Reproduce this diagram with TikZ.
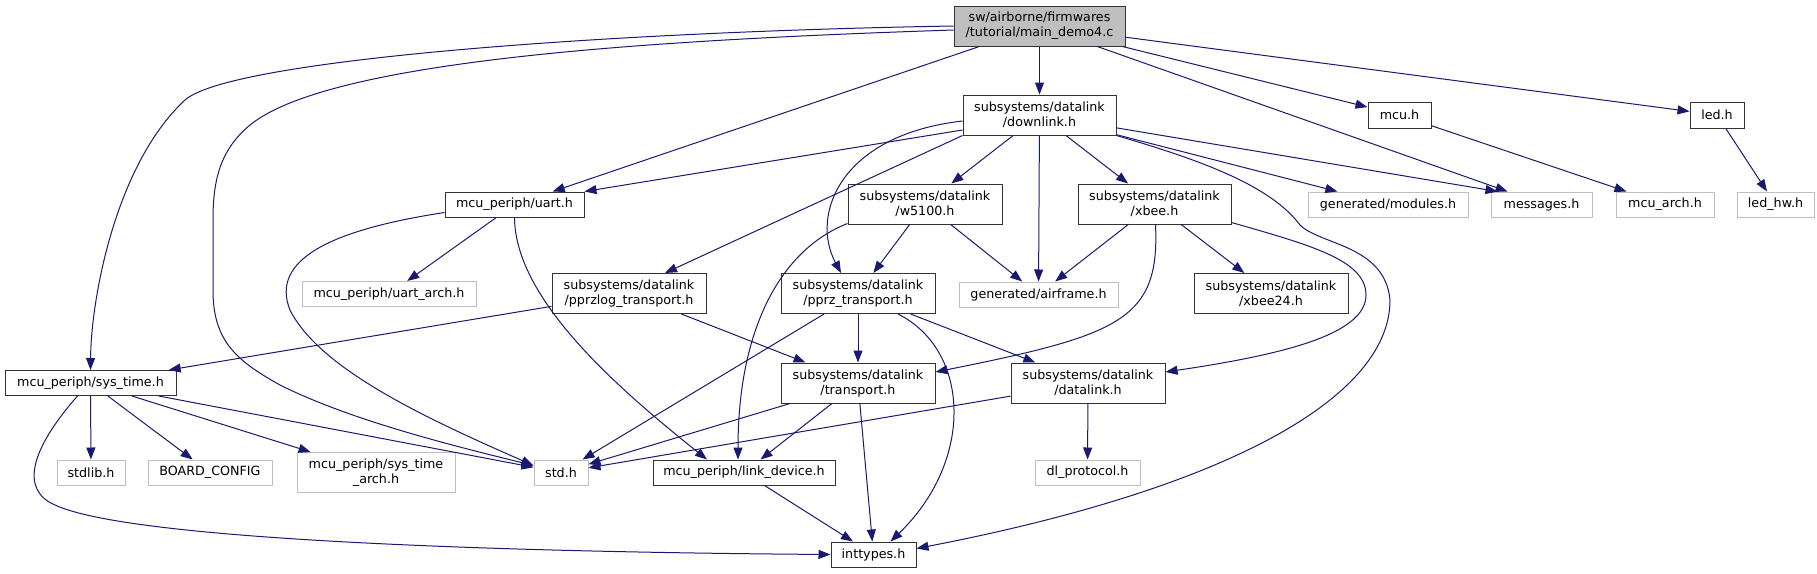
\documentclass[tikz,border=0pt]{standalone}
\usepackage{fontspec}
\setmainfont{DejaVu Sans}
\usepackage{xcolor}
\usetikzlibrary{arrows.meta}
\definecolor{depcol}{RGB}{25,25,112}
\definecolor{extcol}{RGB}{191,191,191}

\begin{document}
\begin{tikzpicture}[x=1pt,y=-1pt,
  font=\fontsize{12.7}{15}\selectfont,
  box/.style={draw,line width=1pt,inner sep=0pt,align=center,minimum height=25pt},
  file/.style={box,draw=black!80},
  ext/.style={box,draw=extcol},
  root/.style={file,fill=extcol},
  two/.style={minimum height=40pt},
  dep/.style={->,draw=depcol,line width=1pt},
  >={Triangle[length=12pt,width=9pt]}]

\useasboundingbox (0,0) rectangle (1817,573);

% root and first level
\node[root,two,minimum width=171pt] (main) at (1039.5,26) {sw/airborne/firmwares\\/tutorial/main\_demo4.c};
\node[file,two,minimum width=153pt] (downlink) at (1039.5,115) {subsystems/datalink\\/downlink.h};
\node[file,minimum width=63pt,minimum height=26pt] (mcu) at (1399.5,115) {mcu.h};
\node[file,minimum width=54pt,minimum height=26pt] (led) at (1717,115) {led.h};

% second level
\node[file,minimum width=139pt] (uart) at (514.5,204.5) {mcu\_periph/uart.h};
\node[file,two,minimum width=154pt] (w5100) at (925,204) {subsystems/datalink\\/w5100.h};
\node[file,two,minimum width=153pt] (xbee) at (1154.5,204) {subsystems/datalink\\/xbee.h};
\node[ext,minimum width=160pt] (modules) at (1388,204.5) {generated/modules.h};
\node[ext,minimum width=101pt] (messages) at (1541.5,204.5) {messages.h};
\node[ext,minimum width=98pt] (mcuarch) at (1665,204.5) {mcu\_arch.h};
\node[ext,minimum width=77pt] (ledhw) at (1775.5,204.5) {led\_hw.h};

% third level
\node[ext,minimum width=174pt] (uartarch) at (389,294) {mcu\_periph/uart\_arch.h};
\node[file,two,minimum width=154pt] (pprzlog) at (629,293.5) {subsystems/datalink\\/pprzlog\_transport.h};
\node[file,two,minimum width=154pt] (pprz) at (858,293.5) {subsystems/datalink\\/pprz\_transport.h};
\node[ext,minimum width=159pt] (airframe) at (1038.5,294.5) {generated/airframe.h};
\node[file,two,minimum width=154pt] (xbee24) at (1271,293.5) {subsystems/datalink\\/xbee24.h};

% fourth level
\node[file,minimum width=171pt] (systime) at (90.5,383) {mcu\_periph/sys\_time.h};
\node[file,two,minimum width=154pt] (transport) at (858,383) {subsystems/datalink\\/transport.h};
\node[file,two,minimum width=154pt] (datalink) at (1088,383) {subsystems/datalink\\/datalink.h};

% leaves
\node[ext,minimum width=68pt] (stdlib) at (91,472.5) {stdlib.h};
\node[ext,minimum width=124pt] (board) at (210,472.5) {BOARD\_CONFIG};
\node[ext,two,minimum width=158pt] (systimearch) at (376,472.5) {mcu\_periph/sys\_time\\\_arch.h};
\node[ext,minimum width=54pt] (std) at (561,472.5) {std.h};
\node[file,minimum width=182pt] (link) at (744,472.5) {mcu\_periph/link\_device.h};
\node[ext,minimum width=105pt] (dl) at (1087.5,472.5) {dl\_protocol.h};
\node[file,minimum width=85pt] (inttypes) at (873.5,554.5) {inttypes.h};

% from main
\draw[dep] (main) -- (downlink); \draw[dep] (main) -- (uart);
\draw[dep] (main) -- (mcu); \draw[dep] (main) -- (led);
\draw[dep] (main) -- ([xshift=-34pt]messages.north);
\draw[dep] (main.west) .. controls (600,32) and (230,60) .. (185,100)
  .. controls (115,165) and (91,300) .. (systime.north);
\draw[dep] ([yshift=-4pt]main.west) .. controls (650,40) and (330,60) .. (250,125)
  .. controls (220,150) and (213,180) .. (213,220) -- (213,290)
  .. controls (213,340) and (235,360) .. (280,385)
  .. controls (350,420) and (450,445) .. ([yshift=7pt]std.west);

% from downlink
\draw[dep] ([yshift=-15pt]downlink.west) -- (uart.north east);
\draw[dep] (downlink.south west) -- ([xshift=36pt]pprzlog.north);
\draw[dep] ([yshift=-6pt]downlink.west) .. controls (840,135) and (810,215) .. ([xshift=-17pt]pprz.north);
\draw[dep] (downlink) -- (w5100); \draw[dep] (downlink) -- (airframe);
\draw[dep] (downlink) -- (xbee); \draw[dep] (downlink) -- (modules);
\draw[dep] (downlink) -- ([xshift=-44pt]messages.north);
\draw[dep] (downlink.south east) .. controls (1200,160) and (1270,185) .. (1300,225)
  .. controls (1320,245) and (1385,245) .. (1390,300)
  .. controls (1390,400) and (1220,490) .. ([yshift=6pt]inttypes.east);

% second level
\draw[dep] (uart) -- (uartarch);
\draw[dep] ([yshift=-8pt]uart.west) .. controls (330,230) and (270,260) .. (290,310)
  .. controls (320,370) and (430,420) .. ([yshift=7pt]std.west);
\draw[dep] (uart.south) .. controls (515,300) and (620,390) .. ([xshift=-37pt]link.north);
\draw[dep] (w5100) -- (pprz); \draw[dep] (w5100) -- (airframe);
\draw[dep] ([yshift=1pt]w5100.south west) .. controls (780,250) and (738,330) .. ([xshift=-6pt]link.north);
\draw[dep] (xbee) -- (airframe); \draw[dep] (xbee) -- (xbee24);
\draw[dep] ([xshift=1pt]xbee.south) .. controls (1160,320) and (1120,335) .. ([yshift=11pt]transport.east);
\draw[dep] ([yshift=2pt]xbee.south east) .. controls (1310,245) and (1366,260) .. (1366,295)
  .. controls (1366,335) and (1280,355) .. ([yshift=11pt]datalink.east);
\draw[dep] (mcu) -- (mcuarch); \draw[dep] (led) -- (ledhw);

% third level
\draw[dep] (pprzlog) -- (systime); \draw[dep] (pprzlog) -- (transport);
\draw[dep] (pprz) -- (transport); \draw[dep] (pprz) -- (std); \draw[dep] (pprz) -- (datalink);
\draw[dep] ([xshift=40pt]pprz.south) .. controls (970,350) and (975,460) .. ([xshift=17pt]inttypes.north);

% fourth level
\draw[dep] (systime) -- (stdlib); \draw[dep] (systime) -- (board);
\draw[dep] (systime) -- (systimearch); \draw[dep] (systime) -- (std);
\draw[dep] ([xshift=-13pt]systime.south) .. controls (30,450) and (20,490) .. (55,505)
  .. controls (130,540) and (500,552) .. (inttypes.west);
\draw[dep] (transport) -- (std); \draw[dep] (transport) -- (link); \draw[dep] (transport) -- (inttypes);
\draw[dep] (datalink) -- (std); \draw[dep] (datalink) -- (dl);
\draw[dep] (link) -- (inttypes);
\end{tikzpicture}
\end{document}
